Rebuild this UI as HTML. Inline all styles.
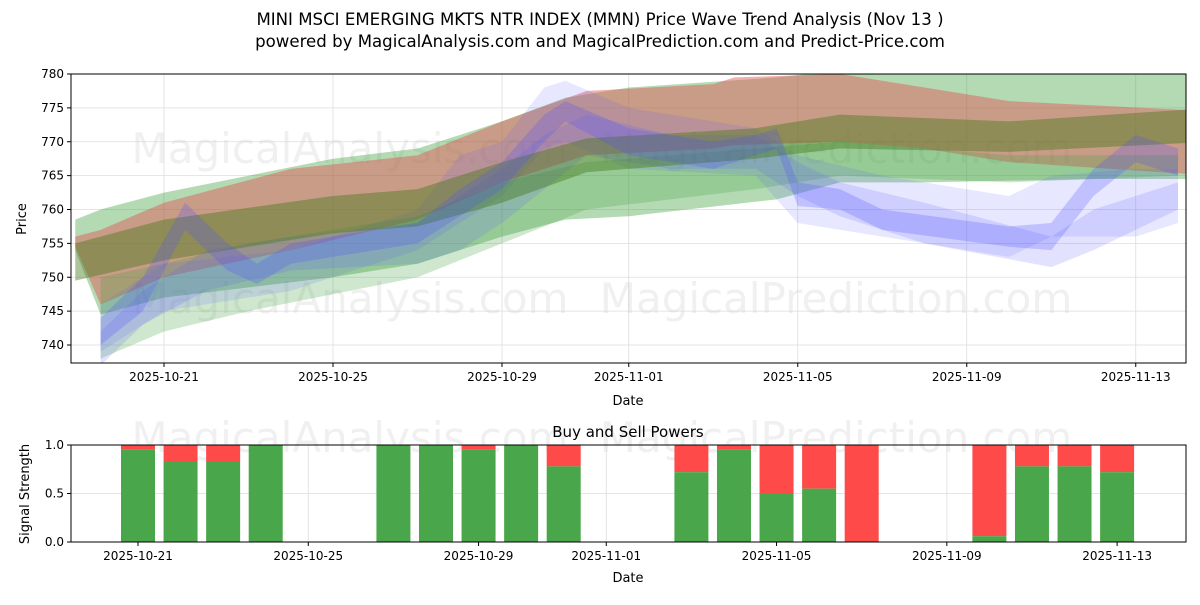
<!DOCTYPE html>
<html><head><meta charset="utf-8"><style>
body{margin:0;background:#fff;font-family:"Liberation Sans","DejaVu Sans",sans-serif}
svg text{font-family:"DejaVu Sans","Liberation Sans",sans-serif}
</style></head><body>
<svg id="c" width="1200" height="600">
<text x="600" y="25" text-anchor="middle" font-size="16.6">MINI MSCI EMERGING MKTS NTR INDEX (MMN) Price Wave Trend Analysis (Nov 13 )</text>
<text x="600" y="47" text-anchor="middle" font-size="16.6">powered by MagicalAnalysis.com and MagicalPrediction.com and Predict-Price.com</text>
<g id="topg"></g><g id="botg"></g>
</svg>
<script>
// days relative to 2025-10-21
const tickDays=[0,4,8,11,15,19,23];
const tickLabels=["2025-10-21","2025-10-25","2025-10-29","2025-11-01","2025-11-05","2025-11-09","2025-11-13"];
const yTicks=[740,745,750,755,760,765,770,775,780];
// bands: [day, low, high]
const bandGreenWide=[[-2.1,754,758.5],[-1.5,744.5,760],[0,747,762.5],[4,750,767.5],[6,752,769],[8,756,773],[9.5,758.5,776.5],[11,759,778],[14.5,761.5,779.5],[16,764,780.5],[18,764,780.5],[22,764.5,780],[24.8,764.5,780]];
const bandRed=[[-2.1,754.5,756],[-1.5,746,757],[0,750,761],[3,754,766],[6,758.5,768],[8,764,773],[10,768,777.5],[13,769,778.5],[13.5,769.5,779.5],[16,770,780],[18,769,778],[20,767,776],[24.8,765,774.5]];
const bandOlive=[[-2.1,749.5,755],[0,752.5,758.5],[4,756.5,762],[6,757.5,763],[8,761,767],[10,765.5,770.5],[14,767.5,772],[16,769,774],[20,768.5,773],[24.8,770,775]];
const bandGreenLow=[[-1.5,738,750],[0,742,752],[2,745,755],[6,750,759],[8,755,764],[10,760,767],[14,763,769],[16,765,770],[20,764,768],[24,765,768]];
const bandBlue1=[[-1.5,740,744],[-0.5,745,750],[0.5,757,761],[1.5,751,755],[2.2,749,752],[3,752,755],[6,755,758],[7,759,763],[8,763,767],[9,770,774],[9.5,773,776],[11,768,772],[13,766,770],[14,768,771],[14.5,769,772],[15,760.5,764],[16,760,763],[17,757,760],[20,754.5,757.5],[21,754,758],[22,762,766],[23,767,771],[24,765,769]];
const bandBlue2=[[-1.5,737,742],[-0.5,743,748],[1,748,754],[3,751,756],[6,752,758],[7,754,762],[8,758,766],[9,763,771],[10,768,774],[12,766,771],[14,766,771],[15,762,767],[16,759,764],[18,755,761],[21,751.5,756],[22,754,760],[23,757,762],[24,760,764]];
const bandBlue3=[[-1.5,739,746],[0,745,752],[3,748,754],[6,754,760],[7,758,768],[8,762,770],[9,769,778],[9.5,770,779],[11,766,775],[14,765,772],[15,758,768],[17,756,765],[20,753,762],[21,756,765],[23,756,766],[24,758,766]];
// buy/sell powers
const barDays=[0,1,2,3,6,7,8,9,10,13,14,15,16,17,20,21,22,23];
const buyVals=[0.95,0.83,0.83,1.0,1.0,1.0,0.95,1.0,0.78,0.72,0.95,0.5,0.55,0.0,0.06,0.78,0.78,0.72];
const NS='http://www.w3.org/2000/svg';
const L=71,R=1186,T=74,B=363,BT=445,BB=542;
const xs=d=>164+d*42.25;
const xb=d=>138+d*42.57;
const ys=v=>345-(v-740)*6.775;
const yb=v=>BB-v*(BB-BT);
function mk(tag,attrs,parent){const e=document.createElementNS(NS,tag);for(const k in attrs)e.setAttribute(k,attrs[k]);parent.appendChild(e);return e;}
const topG=document.getElementById('topg'),botG=document.getElementById('botg');
const clip=mk('clipPath',{id:'cp'},topG);mk('rect',{x:L,y:T,width:R-L,height:B-T},clip);
tickDays.forEach((d,i)=>{const g=mk('line',{x1:xs(d),x2:xs(d),y1:T,y2:B,stroke:'#ddd','stroke-width':0.8},topG);
});
yTicks.forEach(v=>{const g=mk('line',{x1:L,x2:R,y1:ys(v),y2:ys(v),stroke:'#ddd','stroke-width':0.8},topG);
});
[[350,163,'MagicalAnalysis.com'],[836,163,'MagicalPrediction.com'],[350,313,'MagicalAnalysis.com'],[836,313,'MagicalPrediction.com'],[350,452,'MagicalAnalysis.com'],[836,452,'MagicalPrediction.com']].forEach(w=>{
const t=mk('text',{x:w[0],y:w[1],'text-anchor':'middle','font-size':42,fill:'#ccc','fill-opacity':0.3},topG);t.textContent=w[2];
});
const pg=mk('g',{'clip-path':'url(#cp)'},topG);
function band(data,color,op,name){const pts=data.map(p=>xs(p[0])+','+ys(p[2])).concat(data.slice().reverse().map(p=>xs(p[0])+','+ys(p[1])));
const e=mk('polygon',{points:pts.join(' '),fill:color,'fill-opacity':op},pg);
}
band(bandGreenWide,'#3a9e3a',0.38,'band-green-wide');
band(bandRed,'#e05050',0.45,'band-red');
band(bandGreenLow,'#3a9e3a',0.25,'band-green-low');
band(bandBlue3,'#6060ff',0.15,'band-blue-outer');
band(bandBlue2,'#6060ff',0.18,'band-blue-mid');
band(bandOlive,'#4a7a20',0.45,'band-olive');
band(bandBlue1,'#5050ff',0.25,'band-blue-core');
mk('rect',{x:L,y:T,width:R-L,height:B-T,fill:'none',stroke:'#000','stroke-width':1},topG);
tickDays.forEach((d,i)=>{mk('line',{x1:xs(d),x2:xs(d),y1:B,y2:B+4,stroke:'#000'},topG);
const t=mk('text',{x:xs(d),y:B+18,'text-anchor':'middle','font-size':12},topG);t.textContent=tickLabels[i];
});
yTicks.forEach(v=>{mk('line',{x1:L-4,x2:L,y1:ys(v),y2:ys(v),stroke:'#000'},topG);
const t=mk('text',{x:L-7,y:ys(v)+4,'text-anchor':'end','font-size':12},topG);t.textContent=v;
});
let t=mk('text',{x:628,y:405,'text-anchor':'middle','font-size':13},topG);t.textContent='Date';

t=mk('text',{x:0,y:0,'text-anchor':'middle','font-size':13,transform:'translate(26,219) rotate(-90)'},topG);t.textContent='Price';

t=mk('text',{x:628,y:437,'text-anchor':'middle','font-size':15},botG);t.textContent='Buy and Sell Powers';

tickDays.forEach(d=>{const g=mk('line',{x1:xb(d),x2:xb(d),y1:BT,y2:BB,stroke:'#ddd','stroke-width':0.8},botG);
});
[0,0.5,1].forEach(v=>{const g=mk('line',{x1:L,x2:R,y1:yb(v),y2:yb(v),stroke:'#ddd','stroke-width':0.8},botG);
});
barDays.forEach((d,i)=>{const x=xb(d)-17,b=buyVals[i];
const r=mk('rect',{x:x,y:yb(1),width:34,height:yb(b)-yb(1),fill:'#ff4a4a'},botG);

const g=mk('rect',{x:x,y:yb(b),width:34,height:BB-yb(b),fill:'#4aa64a'},botG);
});
mk('rect',{x:L,y:BT,width:R-L,height:BB-BT,fill:'none',stroke:'#000'},botG);
tickDays.forEach((d,i)=>{mk('line',{x1:xb(d),x2:xb(d),y1:BB,y2:BB+4,stroke:'#000'},botG);
const t=mk('text',{x:xb(d),y:BB+18,'text-anchor':'middle','font-size':12},botG);t.textContent=tickLabels[i];
});
[0,0.5,1].forEach(v=>{mk('line',{x1:L-4,x2:L,y1:yb(v),y2:yb(v),stroke:'#000'},botG);
const t=mk('text',{x:L-7,y:yb(v)+4,'text-anchor':'end','font-size':12},botG);t.textContent=v.toFixed(1);
});
t=mk('text',{x:628,y:582,'text-anchor':'middle','font-size':13},botG);t.textContent='Date';

t=mk('text',{x:0,y:0,'text-anchor':'middle','font-size':13,transform:'translate(29,494) rotate(-90)'},botG);t.textContent='Signal Strength';

</script>
</body></html>
